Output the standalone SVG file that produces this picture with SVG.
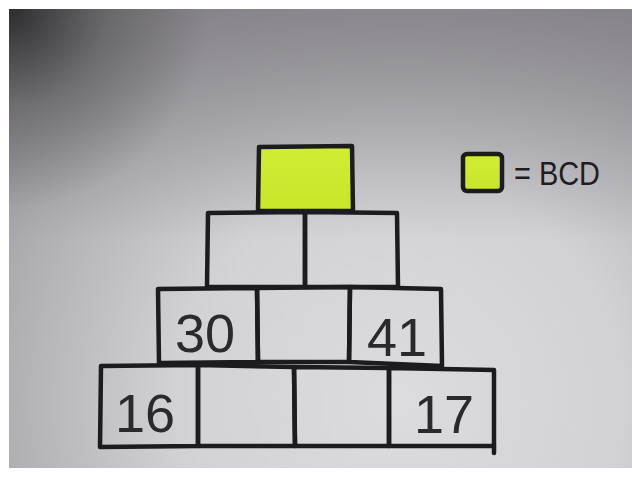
<svg xmlns="http://www.w3.org/2000/svg" width="632" height="477" viewBox="0 0 632 477">
  <defs>
    <radialGradient id="paper" cx="400" cy="400" r="560" gradientUnits="userSpaceOnUse">
      <stop offset="0" stop-color="#dcdce0"/>
      <stop offset="0.4" stop-color="#d2d2d6"/>
      <stop offset="0.7" stop-color="#b0afb4"/>
      <stop offset="1" stop-color="#8a888e"/>
    </radialGradient>
    <linearGradient id="topband" x1="0" y1="9" x2="0" y2="240" gradientUnits="userSpaceOnUse">
      <stop offset="0" stop-color="#7c7a80" stop-opacity="0.75"/>
      <stop offset="1" stop-color="#7c7a80" stop-opacity="0"/>
    </linearGradient>
    <radialGradient id="corner" cx="9" cy="9" r="200" gradientUnits="userSpaceOnUse">
      <stop offset="0" stop-color="#1e1e20" stop-opacity="0.85"/>
      <stop offset="0.5" stop-color="#2a2a2c" stop-opacity="0.3"/>
      <stop offset="1" stop-color="#2a2a2c" stop-opacity="0"/>
    </radialGradient>
    <linearGradient id="green" x1="0" y1="0" x2="0" y2="1">
      <stop offset="0" stop-color="#d2ec34"/>
      <stop offset="1" stop-color="#c8e62a"/>
    </linearGradient>
  </defs>
  <style>
    .edge { fill: none; stroke: #1c1c1e; stroke-width: 4.5; stroke-linejoin: round; stroke-linecap: round; }
    .num { font-family: "Liberation Sans", "DejaVu Sans", sans-serif; font-size: 54px; fill: #2a2a2e; text-anchor: middle; }
    .lbl { font-family: "Liberation Sans", "DejaVu Sans", sans-serif; font-size: 34px; fill: #1e1e22; }
  </style>

  <rect x="0" y="0" width="632" height="477" fill="#ffffff"/>
  <rect x="9" y="9" width="623" height="459" fill="url(#paper)"/>
  <rect x="9" y="9" width="623" height="459" fill="url(#topband)"/>
  <rect x="9" y="9" width="623" height="459" fill="url(#corner)"/>

  <g id="top">
    <path class="edge" d="M259 147 L352 146 L353 211 L258 211 Z" style="fill:url(#green)"/>
  </g>

  <g id="r2a">
    <path class="edge" d="M208 213 L305 212 L305 287 L207 287 Z"/>
  </g>
  <g id="r2b">
    <path class="edge" d="M305 212 L397 213 L398 287 L305 287 Z"/>
  </g>

  <g id="r3a">
    <path class="edge" d="M158 289 L257 288 L258 362 L159 363 Z"/>
    <text class="num" x="205" y="352">30</text>
  </g>
  <g id="r3b">
    <path class="edge" d="M257 288 L350 287 L349 362 L258 362 Z"/>
  </g>
  <g id="r3c">
    <path class="edge" d="M350 287 L441 289 L442 366 L349 362 Z"/>
    <text class="num" x="397" y="356">41</text>
  </g>

  <g id="r4a">
    <path class="edge" d="M101 366 L198 365 L198 446 L100 447 Z"/>
    <text class="num" x="145" y="432">16</text>
  </g>
  <g id="r4b">
    <path class="edge" d="M198 365 L294 367 L295 446 L198 446 Z"/>
  </g>
  <g id="r4c">
    <path class="edge" d="M294 367 L389 368 L389 446 L295 446 Z"/>
  </g>
  <g id="r4d">
    <path class="edge" d="M389 368 L494 370 L494 446 L389 446 Z"/>
    <path class="edge" d="M494 446 L494 453"/>
    <text class="num" x="444" y="433">17</text>
  </g>

  <g id="legend">
    <rect class="edge" x="463" y="154" width="39" height="37" rx="4" style="fill:url(#green)"/>
    <text class="lbl" x="514" y="185" textLength="86" lengthAdjust="spacingAndGlyphs">= BCD</text>
  </g>
</svg>
